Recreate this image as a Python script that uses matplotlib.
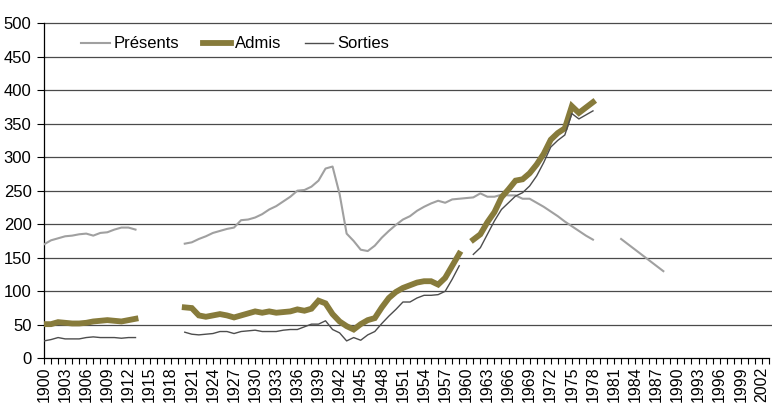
import numpy as np
import matplotlib
matplotlib.use("Agg")
import matplotlib.pyplot as plt
from matplotlib import font_manager as fm

names = {f.name for f in fm.fontManager.ttflist}
fam = ["Liberation Sans Narrow", "DejaVu Sans"] if "Liberation Sans Narrow" in names else ["Liberation Sans", "DejaVu Sans"]
plt.rcParams["font.family"] = fam

years = list(range(1900, 2004))

# (start_year, values) segments
presents_1 = [170, 176, 179, 182, 183, 185, 186, 183, 187, 188, 192, 195, 195, 192]  # 1900-1913
presents_2 = [171, 173, 178, 182, 187, 190, 193, 195, 206, 207, 210, 215, 222, 227, 234, 241,
              250, 251, 256, 265, 283, 286, 245, 186, 175, 162, 160, 168, 180, 190, 199, 207,
              212, 220, 226, 231, 235, 232, 237, 238, 239, 240, 246, 241, 241, 244, 243, 243,
              238, 238, 232, 226, 219, 212, 204, 197, 190, 183, 177]  # 1920-1978
presents_3 = [178, 170, 162, 154, 146, 138, 130]  # 1982-1988

admis_1 = [51, 51, 54, 53, 52, 52, 53, 55, 56, 57, 56, 55, 57, 59]  # 1900-1913
admis_2 = [76, 75, 64, 62, 64, 66, 64, 61, 64, 67, 70, 68, 70, 68, 69, 70,
           73, 71, 74, 86, 82, 66, 55, 48, 43, 51, 57, 60, 76, 90, 99, 105,
           109, 113, 115, 115, 110, 120, 138, 156]  # 1920-1959
admis_3 = [177, 185, 203, 218, 240, 252, 265, 267, 276, 289, 305, 326, 336, 343,
           376, 366, 374, 382]  # 1961-1978

sorties_1 = [26, 28, 31, 29, 29, 29, 31, 32, 31, 31, 31, 30, 31, 31]  # 1900-1913
sorties_2 = [39, 36, 35, 36, 37, 40, 40, 37, 40, 41, 42, 40, 40, 40, 42, 43,
             43, 47, 51, 51, 56, 43, 38, 26, 31, 27, 35, 40, 52, 63, 73, 84,
             84, 90, 94, 94, 95, 100, 118, 138]  # 1920-1959
sorties_3 = [155, 165, 185, 205, 222, 232, 242, 247, 257, 272, 292, 315, 325, 333,
             365, 357, 363, 369]  # 1961-1978


def build(segments):
    s = np.full(len(years), np.nan)
    for start, vals in segments:
        i = years.index(start)
        s[i:i + len(vals)] = vals
    return s


presents = build([(1900, presents_1), (1920, presents_2), (1982, presents_3)])
admis = build([(1900, admis_1), (1920, admis_2), (1961, admis_3)])
sorties = build([(1900, sorties_1), (1920, sorties_2), (1961, sorties_3)])

fig = plt.figure(figsize=(7.72, 4.04), dpi=100)
ax = fig.add_axes([0.057, 0.113, 0.939, 0.83])

for v in range(50, 501, 50):
    ax.axhline(v, color="#4a4a4a", lw=0.9, zorder=1, clip_on=False, xmax=1.004)

ax.plot(years, presents, color="#a0a0a0", lw=1.5, label="Présents", zorder=3)
ax.plot(years, admis, color="#877b3b", lw=4.2, label="Admis", zorder=4,
        solid_joinstyle="miter")
ax.plot(years, sorties, color="#4d4d4d", lw=1.0, label="Sorties", zorder=5)

ax.set_xlim(1900, 2003)
ax.set_ylim(0, 500)
ax.set_yticks(range(0, 501, 50))
xt = list(range(1900, 2003, 3))
ax.set_xticks(xt)
ax.set_xticklabels([str(y) for y in xt], rotation=90)
ax.set_xticks(years, minor=True)
ax.tick_params(axis="x", which="both", direction="out", length=4, width=0.8, colors="black", pad=2)
ax.tick_params(axis="y", direction="out", length=5, width=0.8, pad=4, labelsize=12)
ax.tick_params(axis="x", labelsize=11.5)

for sp in ["top", "right"]:
    ax.spines[sp].set_visible(False)
ax.spines["left"].set_linewidth(0.9)
ax.spines["bottom"].set_linewidth(0.9)

leg = ax.legend(loc="upper left", bbox_to_anchor=(0.04, 0.985), ncol=3, frameon=False,
                fontsize=12, handlelength=1.7, handletextpad=0.25, columnspacing=1.4,
                borderaxespad=0.1)

fig.savefig("out.png", dpi=100)
